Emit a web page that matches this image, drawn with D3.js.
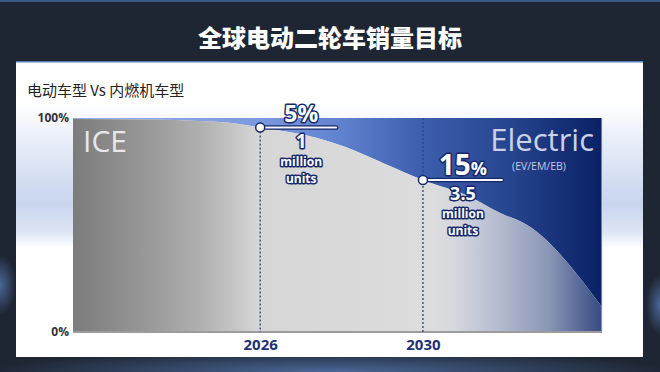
<!DOCTYPE html>
<html>
<head>
<meta charset="utf-8">
<script src="https://cdn.jsdelivr.net/npm/d3@7"></script>
<style>
  body { margin: 0; background: #1e2633; }
  svg { display: block; }
</style>
</head>
<body>
<script>
"use strict";

// Data (ICE share as drawn, in %)

let years = [2021.4, 2023.3, 2024.5, 2025.3, 2026, 2027.4, 2028.1, 2029.07, 2030, 2031.16, 2031.9, 2032.56, 2034.4];
let iceShare = [99.5, 99.3, 98.6, 97.7, 95.6, 90.7, 86.4, 78.5, 71.0, 63.1, 55.6, 50.0, 11.7];

let tickYears = [2026, 2030];
let tickShares = [0, 100];

let markerYears = [2026, 2030];
let markerShares = [95.6, 71.0];
let markerPct = ["5", "15"];
let markerUnits = ["1", "3.5"];

let title = "全球电动二轮车销量目标";
let subtitle = "电动车型 Vs 内燃机车型";

// Layout

let svgWidth = 660;
let svgHeight = 372;
let plotBox = {left: 73, right: 602, top: 118, bottom: 332};
let navy = "#16296a";

let xScale = d3.scaleLinear()
    .domain([years[0], years[years.length - 1]])
    .range([plotBox.left, plotBox.right]);

let yScale = d3.scaleLinear()
    .domain([0, 100])
    .range([plotBox.bottom, plotBox.top]);

let svg = d3.select("body")
    .append("svg")
    .attr("width", svgWidth)
    .attr("height", svgHeight);

let defs = svg.append("defs");

function linear(id, stops, vertical) {
    let grad = defs.append("linearGradient")
        .attr("id", id)
        .attr("x1", 0).attr("y1", 0)
        .attr("x2", vertical ? 0 : 1).attr("y2", vertical ? 1 : 0);
    stops.forEach(([o, c]) => {
        grad.append("stop")
            .attr("offset", o)
            .attr("stop-color", c);
    });
}

function radial(id, color) {
    let grad = defs.append("radialGradient").attr("id", id);
    grad.append("stop").attr("offset", 0).attr("stop-color", color).attr("stop-opacity", 0.9);
    grad.append("stop").attr("offset", 1).attr("stop-color", color).attr("stop-opacity", 0);
}

linear("panelGrad", [[0, "#ffffff"], [0.14, "#ffffff"], [0.3, "#e3e9f6"], [0.48, "#c8d5ee"], [0.58, "#dfe6f4"], [0.63, "#ffffff"], [1, "#ffffff"]], true);
linear("elecGrad", [[0, "#98b0ea"], [0.35, "#7b99de"], [0.5, "#6283cf"], [0.66, "#3d5eae"], [0.81, "#294892"], [1, "#0a2165"]]);
linear("iceGrad", [[0, "#7c7c7c"], [0.15, "#9a9a9a"], [0.25, "#b2b2b2"], [0.35, "#d6d6d6"], [0.68, "#dcdcdc"], [0.72, "#d6d8de"], [0.8, "#b6bdd0"], [0.9, "#8a96b6"], [1, "#364a82"]]);
radial("glowBlue", "#4f6fa3");

// Background

svg.append("rect")
    .attr("width", svgWidth)
    .attr("height", svgHeight)
    .attr("fill", "#1e2633");

svg.append("ellipse")
    .attr("cx", 330).attr("cy", 372)
    .attr("rx", 340).attr("ry", 22)
    .attr("fill", "url(#glowBlue)");

svg.append("ellipse")
    .attr("cx", 0).attr("cy", 285)
    .attr("rx", 16).attr("ry", 30)
    .attr("fill", "url(#glowBlue)");

svg.append("ellipse")
    .attr("cx", 660).attr("cy", 305)
    .attr("rx", 14).attr("ry", 30)
    .attr("fill", "url(#glowBlue)");

svg.append("rect")
    .attr("width", svgWidth)
    .attr("height", 2)
    .attr("fill", "#3d5985");

svg.append("text")
    .attr("x", 330)
    .attr("y", 47)
    .attr("text-anchor", "middle")
    .style("font-family", "'Noto Sans CJK SC', sans-serif")
    .style("font-weight", 900)
    .style("font-size", "24px")
    .style("fill", "#ffffff")
    .text(title);

svg.append("rect")
    .attr("x", 16).attr("y", 62)
    .attr("width", 627).attr("height", 295)
    .attr("fill", "url(#panelGrad)");

svg.append("rect")
    .attr("x", 16).attr("y", 61)
    .attr("width", 627).attr("height", 1.5)
    .attr("fill", "#5d7fb8");

svg.append("text")
    .attr("x", 27)
    .attr("y", 96)
    .style("font-family", "'Noto Sans CJK SC', sans-serif")
    .style("font-size", "15px")
    .style("fill", "#222")
    .text(subtitle);

// Areas

let points = years.map((y, i) => [y, iceShare[i]]);

let elecArea = d3.area()
    .x(d => xScale(d[0]))
    .y0(d => yScale(d[1]))
    .y1(yScale(100))
    .curve(d3.curveMonotoneX);

let iceArea = d3.area()
    .x(d => xScale(d[0]))
    .y0(yScale(0))
    .y1(d => yScale(d[1]))
    .curve(d3.curveMonotoneX);

let g = svg.append("g");

g.append("path")
    .datum(points)
    .attr("d", elecArea)
    .attr("fill", "url(#elecGrad)");

g.append("path")
    .datum(points)
    .attr("d", iceArea)
    .attr("fill", "url(#iceGrad)");

g.append("line")
    .attr("x1", xScale.range()[1]).attr("x2", xScale.range()[1])
    .attr("y1", yScale(100)).attr("y2", yScale(0))
    .attr("stroke", "#d5dcec")
    .attr("stroke-width", 1);

g.append("line")
    .attr("x1", xScale.range()[0]).attr("x2", xScale.range()[1])
    .attr("y1", yScale(0)).attr("y2", yScale(0))
    .attr("stroke", "#9c9c9c")
    .attr("stroke-width", 2);

// Labels inside

g.append("text")
    .attr("x", 83).attr("y", 152)
    .style("font-family", "'Open Sans', sans-serif")
    .style("font-size", "30px")
    .style("fill", "#e8e8e8")
    .text("ICE");

g.append("text")
    .attr("x", 594).attr("y", 151)
    .attr("text-anchor", "end")
    .style("font-family", "'Open Sans', sans-serif")
    .style("font-size", "31px")
    .style("fill", "#cad2e8")
    .text("Electric");

g.append("text")
    .attr("x", 539).attr("y", 170)
    .attr("text-anchor", "middle")
    .style("font-family", "'Open Sans', sans-serif")
    .style("font-size", "10.5px")
    .style("fill", "#c3cbe2")
    .text("(EV/EM/EB)");

// Axes

let xAxis = d3.axisBottom(xScale)
    .tickValues(tickYears)
    .tickFormat(d3.format("d"))
    .tickSize(0)
    .tickPadding(7);

let yAxis = d3.axisLeft(yScale)
    .tickValues(tickShares)
    .tickFormat(d => d + "%")
    .tickSize(0)
    .tickPadding(4);

let gx = svg.append("g")
    .attr("transform", `translate(0, ${plotBox.bottom})`)
    .call(xAxis);

let gy = svg.append("g")
    .attr("transform", `translate(${plotBox.left}, 0)`)
    .call(yAxis);

svg.selectAll(".domain").remove();

gx.selectAll(".tick text")
    .style("font-family", "'Open Sans', sans-serif")
    .style("font-weight", 700)
    .style("font-size", "15px")
    .style("fill", "#1e3272");

gy.selectAll(".tick text")
    .style("font-family", "'Open Sans', sans-serif")
    .style("font-weight", 700)
    .style("font-size", "12px")
    .style("fill", "#333");

// Markers

let halo = sel => sel
    .style("font-family", "'Open Sans', sans-serif")
    .style("font-weight", 700)
    .style("fill", "#ffffff")
    .style("stroke", navy)
    .style("stroke-width", 3)
    .style("stroke-linejoin", "round")
    .style("paint-order", "stroke")
    .attr("text-anchor", "middle");

markerYears.forEach((yr, i) => {
    let x = xScale(yr);
    let y = yScale(markerShares[i]);
    let lineEnd = x + (i == 0 ? 76 : 79);
    let cx = x + (i == 0 ? 41 : 40);

    g.append("line")
        .attr("x1", x).attr("x2", x)
        .attr("y1", i == 0 ? y : yScale(100)).attr("y2", yScale(0))
        .attr("stroke", "#2b4384")
        .attr("stroke-width", 1.3)
        .attr("stroke-dasharray", "2,2");

    g.append("line")
        .attr("x1", x).attr("x2", lineEnd)
        .attr("y1", y).attr("y2", y)
        .attr("stroke", navy)
        .attr("stroke-width", 4.5)
        .attr("stroke-linecap", "round");

    g.append("line")
        .attr("x1", x).attr("x2", lineEnd)
        .attr("y1", y).attr("y2", y)
        .attr("stroke", "#f4f6fb")
        .attr("stroke-width", 2)
        .attr("stroke-linecap", "round");

    g.append("circle")
        .attr("cx", x).attr("cy", y)
        .attr("r", 4.5)
        .attr("fill", "#ffffff")
        .attr("stroke", navy)
        .attr("stroke-width", 1.5);

    let pct = g.append("text")
        .attr("x", cx).attr("y", y - 5)
        .call(halo)
        .style("font-size", (i == 0 ? 23 : 28) + "px");
    pct.append("tspan").text(markerPct[i]);
    pct.append("tspan")
        .style("font-size", (i == 0 ? 23 : 18) + "px")
        .text("%");

    g.append("text")
        .attr("x", cx).attr("y", y + (i == 0 ? 21 : 20))
        .call(halo)
        .style("font-size", (i == 0 ? 19 : 18) + "px")
        .text(markerUnits[i]);

    g.append("text")
        .attr("x", cx).attr("y", y + (i == 0 ? 39 : 38))
        .call(halo)
        .style("font-size", "12px")
        .text("million");

    g.append("text")
        .attr("x", cx).attr("y", y + (i == 0 ? 56 : 55))
        .call(halo)
        .style("font-size", "12px")
        .text("units");
});
</script>
</body>
</html>
